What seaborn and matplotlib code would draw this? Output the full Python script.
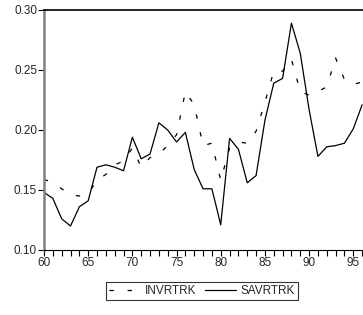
import numpy as np
import pandas as pd
import matplotlib
matplotlib.use("Agg")
import matplotlib.pyplot as plt
import seaborn as sns

# ========== data ==========
years = list(range(60, 97))
invrtrk = [0.159, 0.156, 0.151, 0.146, 0.145, 0.147, 0.158, 0.163, 0.171, 0.174,
           0.185, 0.169, 0.177, 0.180, 0.187, 0.196, 0.232, 0.221, 0.187, 0.189,
           0.158, 0.185, 0.190, 0.189, 0.199, 0.223, 0.249, 0.249, 0.259, 0.232,
           0.229, 0.232, 0.236, 0.260, 0.242, 0.238, 0.240]
savrtrk = [0.148, 0.143, 0.126, 0.120, 0.136, 0.141, 0.169, 0.171, 0.169, 0.166,
           0.194, 0.176, 0.180, 0.206, 0.200, 0.190, 0.198, 0.167, 0.151, 0.151,
           0.121, 0.193, 0.184, 0.156, 0.162, 0.208, 0.239, 0.243, 0.289, 0.264,
           0.217, 0.178, 0.186, 0.187, 0.189, 0.201, 0.221]

df = pd.DataFrame({"year": years, "INVRTRK": invrtrk, "SAVRTRK": savrtrk})

# ========== plot ==========
sns.set_style("white")
plt.rcParams["font.family"] = ["Liberation Sans", "DejaVu Sans"]

fig = plt.figure(figsize=(3.63, 3.15), dpi=100)
ax = fig.add_axes([44 / 363, 1 - 250 / 315, 1 - 44 / 363, 240 / 315])

sns.lineplot(data=df, x="year", y="INVRTRK", ax=ax, color="black", lw=0.9)
sns.lineplot(data=df, x="year", y="SAVRTRK", ax=ax, color="black", lw=0.9)
inv_dash = (3.5, 11)
ax.lines[0].set_dashes(inv_dash)

ax.set_xlim(60, 96.1)
ax.set_ylim(0.10, 0.30)
ax.set_xticks([60, 65, 70, 75, 80, 85, 90, 95])
ax.set_xticks(range(60, 97), minor=True)
ax.set_yticks([0.10, 0.15, 0.20, 0.25, 0.30])
ax.set_yticklabels(["0.10", "0.15", "0.20", "0.25", "0.30"])
ax.set_xlabel("")
ax.set_ylabel("")

ax.spines["right"].set_visible(False)
ax.spines["top"].set_color("black")
ax.spines["top"].set_linewidth(1.2)
ax.spines["bottom"].set_color("black")
ax.spines["bottom"].set_linewidth(0.8)
ax.spines["left"].set_color("#808080")
ax.spines["left"].set_linewidth(1.8)

ax.tick_params(axis="x", which="both", bottom=True, direction="out", length=4,
               width=0.8, color="black", labelsize=8.5, pad=1)
ax.tick_params(axis="y", which="major", left=True, direction="out", length=4,
               width=0.8, color="black", labelsize=8.5, pad=1)

handles = [plt.Line2D([], [], color="black", lw=0.9, dashes=inv_dash),
           plt.Line2D([], [], color="black", lw=0.9)]
leg = fig.legend(handles, ["INVRTRK", "SAVRTRK"], loc="center",
                 bbox_to_anchor=(0.557, 0.076), ncol=2, frameon=True,
                 fancybox=False, fontsize=8.5, handlelength=2.6,
                 handletextpad=0.4, columnspacing=0.8, borderpad=0.25)
leg.get_frame().set_edgecolor("black")
leg.get_frame().set_linewidth(0.8)

fig.savefig("out.png", dpi=100)
